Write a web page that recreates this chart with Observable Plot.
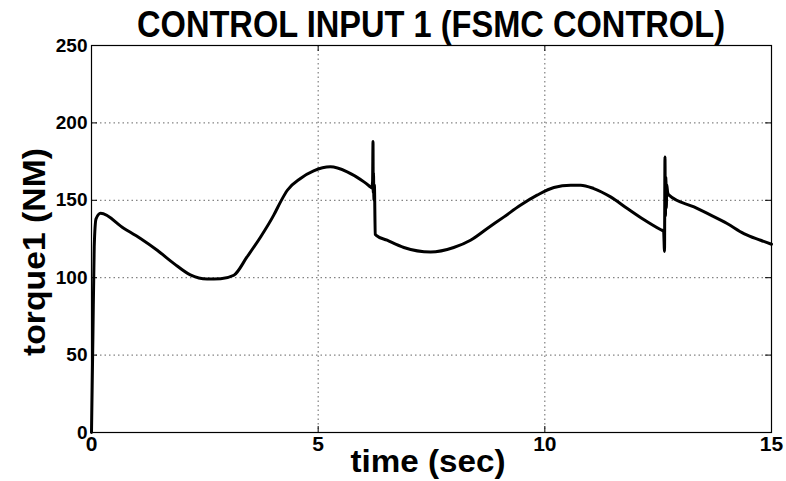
<!DOCTYPE html>
<html>
<head>
<meta charset="utf-8">
<script src="https://cdn.jsdelivr.net/npm/d3@7"></script>
<script src="https://cdn.jsdelivr.net/npm/@observablehq/plot@0.6"></script>
<style>
  html, body { margin: 0; padding: 0; background: #fff; }
  #chart { width: 786px; height: 481px; }
</style>
</head>
<body>
<div id="chart"></div>
<script>
// ---- data ----
const time = [
  0, 0.03, 0.06, 0.1, 0.2, 0.71, 1.08, 1.45, 1.82, 2.18, 2.55, 2.85, 3.14, 3.43,
  3.73, 4.02, 4.17, 4.32, 4.61, 4.9, 5.27, 5.64, 6.01, 6.15, 6.18, 6.2, 6.21,
  6.215, 6.22, 6.23, 6.24, 6.26, 6.28, 6.52, 6.89, 7.48, 7.99, 8.36, 8.73, 9.1,
  9.46, 9.83, 10.2, 10.57, 10.79, 11.08, 11.45, 11.82, 12.18, 12.55, 12.62,
  12.64, 12.65, 12.66, 12.67, 12.68, 12.69, 12.71, 12.74, 13.29, 13.66, 14.02,
  14.39, 14.76, 15
];
const torque1 = [
  0, 60, 120, 138, 141.6, 132, 125.3, 117.7, 109.1, 101.8, 99.2, 99.4, 101.6, 113.4,
  126.3, 140.4, 149, 156.5, 164.1, 169, 171.6, 168.4, 161.9, 158.7, 158, 162, 188,
  155, 168, 150, 160, 128, 127.4, 124.2, 119.5, 116.6, 119.5, 124.2, 131.8, 139.3,
  146.8, 153.3, 158.3, 159.8, 159.8, 157.6, 152.2, 144.7, 137.6, 131.1, 130,
  117, 178, 140, 165, 145, 160, 155, 153.3, 145.7, 140.4, 135,
  128.5, 124.2, 121.6
];
const xTicks = [0, 5, 10, 15];
const yTicks = [0, 50, 100, 150, 200, 250];
const titleText = "CONTROL INPUT 1 (FSMC CONTROL)";
const xLabel = "time (sec)";
const yLabel = "torque1 (NM)";

const data = time.map((t, i) => ({t, v: torque1[i]}));

const W = 786, H = 481;
const mL = 91, mR = 15, mT = 45, mB = 49;
const frameH = H - mT - mB, frameW = W - mL - mR;
const tick = 6;
const gridStyle = {stroke: "#666", strokeOpacity: 1, strokeWidth: 1, strokeDasharray: "1.5,3"};

const chart = Plot.plot({
  width: W, height: H,
  marginLeft: mL, marginRight: mR, marginTop: mT, marginBottom: mB,
  style: {fontFamily: "'Liberation Sans', Arial, sans-serif", background: "#fff", color: "#000"},
  x: {domain: [0, 15]},
  y: {domain: [0, 250]},
  marks: [
    Plot.gridX(xTicks.slice(1, -1), gridStyle),
    Plot.gridY(yTicks.slice(1, -1), gridStyle),
    // inward ticks (bottom, top, left, right)
    Plot.ruleX(xTicks, {x: d => d, stroke: "#000", insetTop: frameH - tick}),
    Plot.ruleX(xTicks, {x: d => d, stroke: "#000", insetBottom: frameH - tick}),
    Plot.ruleY(yTicks, {y: d => d, stroke: "#000", insetRight: frameW - tick}),
    Plot.ruleY(yTicks, {y: d => d, stroke: "#000", insetLeft: frameW - tick}),
    Plot.frame({stroke: "#000", strokeWidth: 1.2}),
    Plot.axisX(xTicks, {tickSize: 0, tickPadding: 4, fontSize: 21, fontWeight: "bold", label: null}),
    Plot.axisY(yTicks, {tickSize: 0, tickPadding: 4, fontSize: 19, fontWeight: "bold", label: null}),
    Plot.line(data, {x: "t", y: "v", stroke: "#000", strokeWidth: 3, strokeLinejoin: "round", curve: "monotone-x"})
  ]
});

document.getElementById("chart").appendChild(chart);

const svg = d3.select(chart);
const ff = "'Liberation Sans', Arial, sans-serif";
svg.append("text")
  .attr("x", mL + frameW / 2).attr("y", 37)
  .attr("text-anchor", "middle")
  .attr("font-family", ff).attr("font-weight", "bold").attr("font-size", 36)
  .attr("textLength", 588).attr("lengthAdjust", "spacingAndGlyphs")
  .attr("fill", "#000")
  .text(titleText);
svg.append("text")
  .attr("x", 428).attr("y", 472)
  .attr("text-anchor", "middle")
  .attr("font-family", ff).attr("font-weight", "bold").attr("font-size", 31)
  .attr("textLength", 155).attr("lengthAdjust", "spacingAndGlyphs")
  .attr("fill", "#000")
  .text(xLabel);
svg.append("text")
  .attr("transform", "translate(45,252) rotate(-90)")
  .attr("text-anchor", "middle")
  .attr("font-family", ff).attr("font-weight", "bold").attr("font-size", 31)
  .attr("textLength", 208).attr("lengthAdjust", "spacingAndGlyphs")
  .attr("fill", "#000")
  .text(yLabel);
</script>
</body>
</html>
